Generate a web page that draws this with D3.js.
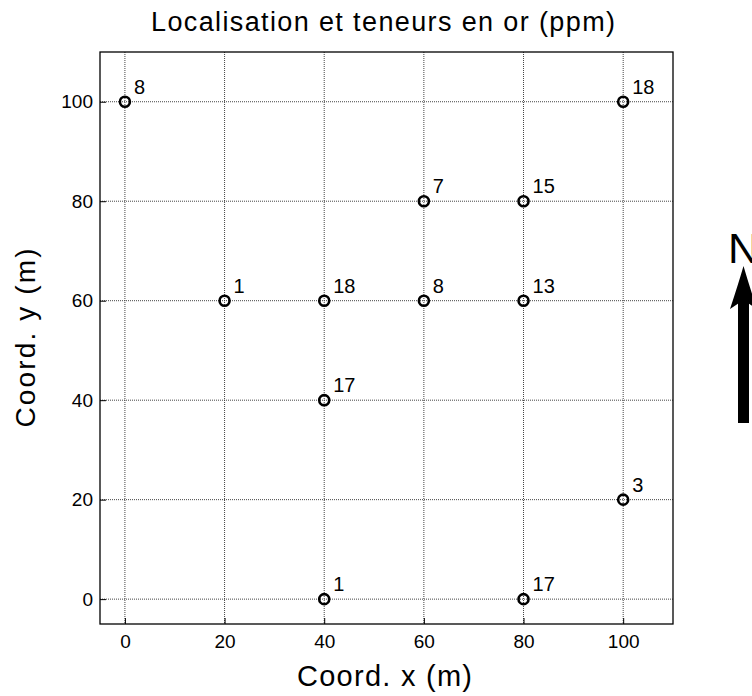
<!DOCTYPE html>
<html><head><meta charset="utf-8">
<script src="https://cdn.jsdelivr.net/npm/d3@7"></script>
<style>body{margin:0;background:#fff}svg{display:block}</style>
</head><body>
<script>
const xs = [0, 100, 60, 80, 20, 40, 60, 80, 40, 100, 40, 80];
const ys = [100, 100, 80, 80, 60, 60, 60, 60, 40, 20, 0, 0];
const grades = [8, 18, 7, 15, 1, 18, 8, 13, 17, 3, 1, 17];
const xTicks = [0, 20, 40, 60, 80, 100];
const yTicks = [0, 20, 40, 60, 80, 100];

const W = 752, H = 696;
const L = 100, R = 673, T = 52, B = 624;
const FONT = "Arial, 'Liberation Sans', sans-serif";
const svg = d3.select("body").append("svg").attr("width", W).attr("height", H)
  .style("font-family", FONT);
const x = d3.scaleLinear().domain([-5, 110]).range([L, R]);
const y = d3.scaleLinear().domain([-5, 110]).range([B, T]);

// grid
const g = svg.append("g");
g.selectAll(".gx").data(xTicks).join("line")
  .attr("x1", d => x(d)).attr("x2", d => x(d)).attr("y1", T).attr("y2", B)
  .attr("stroke", "#444").attr("stroke-width", 1).attr("stroke-dasharray", "1,1");
g.selectAll(".gy").data(yTicks).join("line")
  .attr("y1", d => y(d)).attr("y2", d => y(d)).attr("x1", L).attr("x2", R)
  .attr("stroke", "#444").attr("stroke-width", 1).attr("stroke-dasharray", "1,1");

// axes
const xAxis = d3.axisBottom(x).tickValues(xTicks).tickSize(-6).tickPadding(11);
const yAxis = d3.axisLeft(y).tickValues(yTicks).tickSize(-6).tickPadding(7);
const gx = svg.append("g").attr("transform", `translate(0,${B})`).call(xAxis);
const gy = svg.append("g").attr("transform", `translate(${L},0)`).call(yAxis);
[gx, gy].forEach(a => {
  a.attr("font-size", null).attr("font-family", null);
  a.select(".domain").remove();
  a.selectAll("text").style("font-size", "19px").attr("fill", "#000")
    .style("font-family", FONT);
  a.selectAll("line").attr("stroke", "#000");
});
svg.append("rect").attr("x", L).attr("y", T).attr("width", R - L).attr("height", B - T)
  .attr("fill", "none").attr("stroke", "#000").attr("stroke-width", 1.3);

// points
svg.selectAll(".pt").data(xs).join("circle")
  .attr("cx", (d, i) => x(xs[i])).attr("cy", (d, i) => y(ys[i])).attr("r", 5)
  .attr("fill", "none").attr("stroke", "#000").attr("stroke-width", 2.6);
svg.selectAll(".lb").data(grades).join("text")
  .attr("x", (d, i) => x(xs[i]) + 9).attr("y", (d, i) => y(ys[i]) - 8)
  .style("font-size", "20px").text(d => d);

// titles
svg.append("text").attr("x", 383).attr("y", 31).attr("text-anchor", "middle")
  .style("font-size", "27px").attr("textLength", 464).attr("lengthAdjust", "spacing")
  .text("Localisation et teneurs en or (ppm)");
svg.append("text").attr("x", 384.5).attr("y", 686).attr("text-anchor", "middle")
  .style("font-size", "29px").attr("textLength", 175).attr("lengthAdjust", "spacing")
  .text("Coord. x (m)");
svg.append("text").attr("transform", `translate(35,${(T + B) / 2}) rotate(-90)`)
  .attr("text-anchor", "middle").style("font-size", "28px")
  .attr("textLength", 179).attr("lengthAdjust", "spacing").text("Coord. y (m)");

// North arrow
svg.append("text").attr("x", 728).attr("y", 263).style("font-size", "43px").text("N");
svg.append("line").attr("x1", 743.5).attr("x2", 743.5).attr("y1", 423).attr("y2", 295)
  .attr("stroke", "#000").attr("stroke-width", 11);
svg.append("path")
  .attr("d", "M743.5,266 Q738,285 730,309 L743.5,300 L757,309 Q749,285 743.5,266 Z")
  .attr("fill", "#000");
</script>
</body></html>
